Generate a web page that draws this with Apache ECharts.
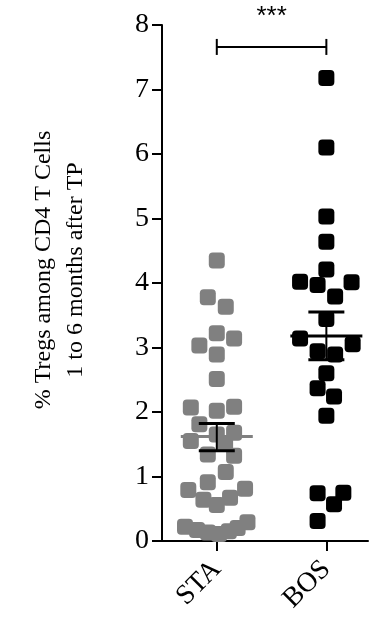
<!DOCTYPE html>
<html>
<head>
<meta charset="utf-8">
<script src="https://cdn.jsdelivr.net/npm/echarts@6/dist/echarts.min.js"></script>
<style>
html,body{margin:0;padding:0;background:#fff;}
#chart{width:369px;height:625px;}
</style>
</head>
<body>
<div id="chart"></div>
<script>
// ---- data ----
const categories = ['STA', 'BOS'];
const yTicks = [0, 1, 2, 3, 4, 5, 6, 7, 8];
// STA group (gray): values and horizontal jitter (in category units)
const staValues = [4.35, 3.78, 3.63, 3.22, 3.14, 3.03, 2.89, 2.51,
  2.07, 2.02, 2.08, 1.81, 1.65, 1.68, 1.55, 1.52, 1.34, 1.32,
  1.07, 0.91, 0.79, 0.81, 0.64, 0.56, 0.67,
  0.22, 0.17, 0.13, 0.11, 0.15, 0.20, 0.29];
const staJitter = [0, -0.082, 0.082, 0, 0.158, -0.159, 0, 0,
  -0.237, 0, 0.158, -0.159, 0, 0.158, -0.237, 0.076, -0.082, 0.158,
  0.082, -0.082, -0.26, 0.258, -0.122, 0, 0.121,
  -0.29, -0.18, -0.08, 0.02, 0.11, 0.19, 0.28];
// BOS group (black)
const bosValues = [7.18, 6.10, 5.03, 4.64, 4.21, 4.02, 3.97, 4.01, 3.79, 3.44,
  3.14, 3.05, 2.94, 2.89, 2.60, 2.37, 2.24, 1.94, 0.74, 0.75, 0.57, 0.31];
const bosJitter = [0, 0, 0, 0, 0, -0.24, -0.08, 0.23, 0.08, 0,
  -0.24, 0.24, -0.08, 0.08, 0, -0.08, 0.07, 0, -0.08, 0.155, 0.07, -0.08];
// mean and SEM limits
const groupMeans = [1.62, 3.18];
const semLow = [1.40, 2.81];
const semHigh = [1.82, 3.55];
const meanColors = ['#808080', '#000000'];
// significance bracket
const bracketFrom = 1, bracketTo = 2, bracketY = 7.66, sigLabel = '***';
const yName = '% Tregs among CD4 T Cells\n1 to 6 months after TP';

const FONT = 'Liberation Serif';
const catPos = categories.map((c, i) => i + 1);

const staData = staValues.map((v, i) => [catPos[0] + staJitter[i], v]);
const bosData = bosValues.map((v, i) => [catPos[1] + bosJitter[i], v]);
const errData = categories.map((c, i) => [catPos[i], groupMeans[i], semLow[i], semHigh[i], i]);

const chart = echarts.init(document.getElementById('chart'), null, {renderer: 'canvas'});
chart.setOption({
  animation: false,
  backgroundColor: '#fff',
  grid: {left: 162, right: 1, top: 25, bottom: 84, containLabel: false},
  xAxis: {
    type: 'value', min: 0.5, max: 2.38,
    splitLine: {show: false},
    axisLine: {show: true, onZero: false, lineStyle: {color: '#000', width: 2}},
    axisTick: {show: true, customValues: catPos, length: 10, lineStyle: {color: '#000', width: 2}},
    axisLabel: {
      customValues: catPos, rotate: 45, margin: 24,
      formatter: v => categories[Math.round(v) - 1] || '',
      fontFamily: FONT, fontSize: 28, color: '#000'
    }
  },
  yAxis: {
    type: 'value', min: yTicks[0], max: yTicks[yTicks.length - 1], interval: 1,
    splitLine: {show: false},
    axisLine: {show: true, lineStyle: {color: '#000', width: 2}},
    axisTick: {show: true, length: 10, lineStyle: {color: '#000', width: 2}},
    axisLabel: {margin: 13, fontFamily: FONT, fontSize: 28, color: '#000'},
    name: yName, nameLocation: 'middle', nameGap: 70, nameRotate: 90,
    nameTextStyle: {fontFamily: FONT, fontSize: 24, color: '#000', lineHeight: 32, align: 'center', padding: [0, 0, 0, 26]}
  },
  series: [
    {
      type: 'scatter', data: staData, symbol: 'roundRect', symbolSize: 16,
      itemStyle: {color: '#808080', opacity: 1}, z: 2
    },
    {
      type: 'scatter', data: bosData, symbol: 'roundRect', symbolSize: 16,
      itemStyle: {color: '#000', opacity: 1}, z: 3
    },
    {
      type: 'custom', data: errData, z: 5,
      renderItem: function (params, api) {
        const x = api.value(0);
        const m = api.coord([x, api.value(1)]);
        const lo = api.coord([x, api.value(2)]);
        const hi = api.coord([x, api.value(3)]);
        const idx = api.value(4);
        const mw = 36, cw = 18;
        return {
          type: 'group', children: [
            {type: 'line', shape: {x1: m[0] - mw, y1: m[1], x2: m[0] + mw, y2: m[1]},
              style: {stroke: meanColors[idx], lineWidth: 3}},
            {type: 'line', shape: {x1: lo[0], y1: lo[1], x2: hi[0], y2: hi[1]},
              style: {stroke: '#000', lineWidth: 2}},
            {type: 'line', shape: {x1: hi[0] - cw, y1: hi[1], x2: hi[0] + cw, y2: hi[1]},
              style: {stroke: '#000', lineWidth: 3}},
            {type: 'line', shape: {x1: lo[0] - cw, y1: lo[1], x2: lo[0] + cw, y2: lo[1]},
              style: {stroke: '#000', lineWidth: 3}}
          ]
        };
      }
    },
    {
      type: 'custom', data: [[bracketFrom, bracketTo, bracketY]], z: 5,
      clip: false,
      renderItem: function (params, api) {
        const a = api.coord([api.value(0), api.value(2)]);
        const b = api.coord([api.value(1), api.value(2)]);
        return {
          type: 'group', children: [
            {type: 'line', shape: {x1: a[0], y1: a[1], x2: b[0], y2: b[1]}, style: {stroke: '#000', lineWidth: 2}},
            {type: 'line', shape: {x1: a[0], y1: a[1] - 8, x2: a[0], y2: a[1] + 8}, style: {stroke: '#000', lineWidth: 2}},
            {type: 'line', shape: {x1: b[0], y1: b[1] - 8, x2: b[0], y2: b[1] + 8}, style: {stroke: '#000', lineWidth: 2}},
            {type: 'text', x: (a[0] + b[0]) / 2, y: a[1] - 30,
              style: {text: sigLabel, fontFamily: 'Liberation Sans', fontSize: 26, fill: '#000', align: 'center', verticalAlign: 'middle'}}
          ]
        };
      }
    }
  ]
});
</script>
</body>
</html>
